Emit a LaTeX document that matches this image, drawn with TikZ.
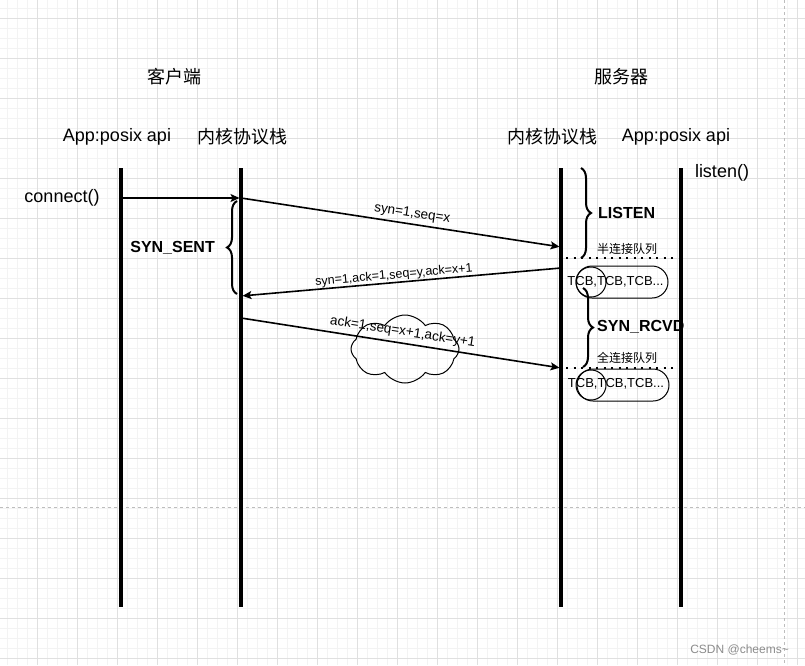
\documentclass[tikz,border=0pt]{standalone}
\usepackage{fontspec}
\setmainfont{Liberation Sans}
\newfontfamily\cjk{Noto Sans CJK SC}
\usepackage{tikz}
\usetikzlibrary{arrows.meta,positioning,decorations.pathreplacing,shapes.symbols}
\usepackage{xcolor}
\definecolor{GridMaj}{HTML}{E0E0E0}
\definecolor{GridMin}{HTML}{F3F3F3}
\definecolor{Guide}{HTML}{BDBDBD}
\newcommand{\fs}[1]{\fontsize{#1}{#1}\selectfont}

\begin{document}
\begin{tikzpicture}[x=1pt,y=-1pt,
  gmin/.style={GridMin,line width=0.8pt},
  gmaj/.style={GridMaj,line width=0.8pt},
  guide/.style={Guide,line width=0.8pt,dash pattern=on 3pt off 3pt},
  life/.style={line width=4pt},
  msg/.style={-{Stealth[length=9pt,width=8pt,inset=2pt]},line width=1.6pt,shorten >=1.5pt},
  lbl/.style={font=\fs{13.5},inner sep=1.5pt,sloped,above},
  ttl/.style={font=\fs{18},inner sep=0pt},
  st/.style={font=\fs{16}\bfseries,inner sep=0pt},
  brc/.style={decorate,decoration={brace,amplitude=10pt},line width=2pt},
  qline/.style={line width=2pt,dash pattern=on 2pt off 5.5pt},
  qlbl/.style={font=\fs{12}\cjk,inner sep=0pt},
  capsule/.style={draw,line width=1pt,rounded corners=16pt,minimum width=92pt,minimum height=32pt,inner sep=0pt},
  circ/.style={draw,line width=1pt,circle,minimum size=30pt,inner sep=0pt},
  tcb/.style={font=\fs{13},inner sep=0pt}]
\useasboundingbox (0,0) rectangle (805,665);
\def\xA{121}\def\xB{241}\def\xC{561}\def\xD{681}
% grid
\foreach \x in {7,17,...,797}{\draw[gmin] (\x,0) -- (\x,665);}
\foreach \y in {8,18,...,658}{\draw[gmin] (0,\y) -- (805,\y);}
\foreach \x in {37,77,...,797}{\draw[gmaj] (\x,0) -- (\x,665);}
\foreach \y in {18,58,...,658}{\draw[gmaj] (0,\y) -- (805,\y);}
\draw[guide] (0,507) -- (805,507);
\draw[guide] (784,0) -- (784,665);
% titles
\node[ttl,font=\fs{18}\cjk] (client) at (174,77) {客户端};
\node[ttl,font=\fs{18}\cjk] (server) at (621,77) {服务器};
\node[ttl] (appC) at (117,137) {App:posix api};
\node[ttl,font=\fs{18}\cjk] (kerC) at (242,137) {内核协议栈};
\node[ttl,font=\fs{18}\cjk] (kerS) at (552,137) {内核协议栈};
\node[ttl] (appS) at (676,137) {App:posix api};
\node[ttl] (conn) at (62,198) {connect()};
\node[ttl] (lsn) at (722,173) {listen()};
% lifelines
\foreach \x in {\xA,\xB,\xC,\xD}{\draw[life] (\x,168) -- (\x,607);}
% cloud
\node[cloud,draw,line width=1pt,cloud puffs=8,cloud puff arc=110,cloud ignores aspect,
  minimum width=108pt,minimum height=68pt] (net) at (405,349) {};
% messages
\coordinate (a0) at (\xA,198); \coordinate (b0) at (\xB,198);
\coordinate (b1) at (\xB,198); \coordinate (c1) at (\xC,247);
\coordinate (c2) at (\xC,268); \coordinate (b2) at (\xB,296);
\coordinate (b3) at (\xB,318); \coordinate (c3) at (\xC,368);
\draw[msg,line width=1.3pt] (a0) -- (b0);
\draw[msg] (b1) -- node[lbl,pos=0.53,inner sep=3.5pt]{syn=1,seq=x} (c1);
\draw[msg] (c2) -- node[lbl,pos=0.52,inner sep=0.5pt,font=\fs{12.5}]{syn=1,ack=1,seq=y,ack=x+1} (b2);
\draw[msg] (b3) -- node[lbl,pos=0.5,inner sep=4pt]{ack=1,seq=x+1,ack=y+1} (c3);
% states
\coordinate (s1) at (237,294); \coordinate (s2) at (237,201);
\draw[brc] (s1) -- (s2);
\node[st,anchor=east] (sent) at (215,248) {SYN\_SENT};
\coordinate (l1) at (581,168); \coordinate (l2) at (581,258);
\draw[brc] (l1) -- (l2);
\node[st,anchor=west] (listen) at (598,213) {LISTEN};
\coordinate (r1) at (583,288); \coordinate (r2) at (583,367);
\draw[brc] (r1) -- (r2);
\node[st,anchor=west] (rcvd) at (597,327) {SYN\_RCVD};
% queues
\coordinate (h1) at (566,258); \coordinate (h2) at (678,258);
\draw[qline] (h1) -- (h2);
\node[qlbl] (half) at (627,249) {半连接队列};
\node[capsule] (q1) at (622,282) {};
\node[circ] (o1) at (591,282) {};
\node[tcb] (t1) at (615.5,282) {TCB,TCB,TCB...};
\coordinate (f1) at (566,368); \coordinate (f2) at (678,368);
\draw[qline] (f1) -- (f2);
\node[qlbl] (full) at (627,358) {全连接队列};
\node[capsule] (q2) at (623,385) {};
\node[circ] (o2) at (591,385) {};
\node[tcb] (t2) at (616,384) {TCB,TCB,TCB...};
\node[font=\fs{12},text=black!45,anchor=east,inner sep=0pt] (mark) at (789,650) {CSDN @cheems\textasciitilde};
\end{tikzpicture}
\end{document}
